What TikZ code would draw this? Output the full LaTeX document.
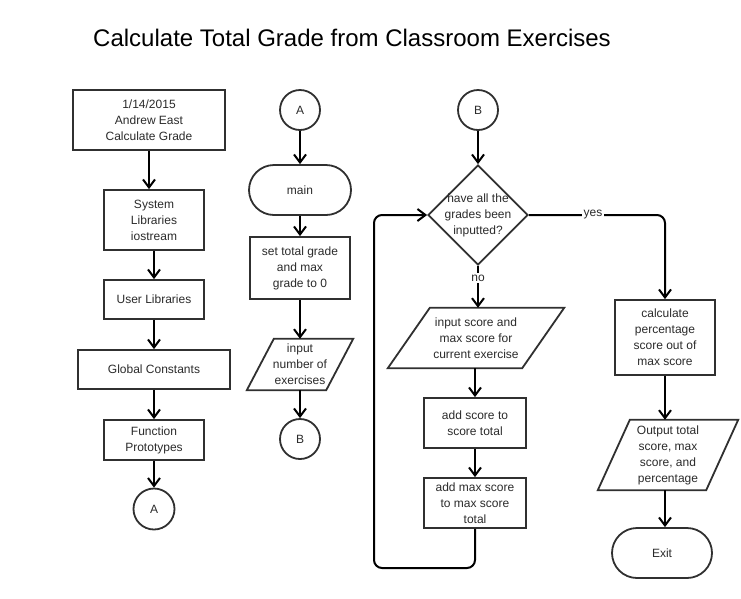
\documentclass[tikz,border=0pt]{standalone}
\usepackage{fontspec}
\setmainfont{Liberation Sans}
\usetikzlibrary{arrows.meta,shapes.geometric,shapes.misc}

\definecolor{ink}{HTML}{2B2B2B}
\definecolor{edge}{HTML}{303030}

% outline of a slanted input/output box around an (undrawn) node
\newcommand\slantdraw[2]{%
  \draw[edgeline] ([xshift=#2]#1.north west) -- (#1.north east)
    -- ([xshift=-#2]#1.south east) -- (#1.south west) -- cycle;}

\begin{document}
\begin{tikzpicture}[x=1pt,y=-1pt,
  every node/.style={font=\fontsize{12}{16}\selectfont, text=ink, align=center},
  edgeline/.style={draw=edge, line width=1.8pt, line join=miter},
  box/.style={rectangle, edgeline, inner sep=0pt},
  term/.style={rounded rectangle, edgeline, inner sep=0pt, minimum width=100pt, minimum height=50pt},
  conncircle/.style={circle, edgeline, inner sep=0pt, minimum size=41pt},
  iobox/.style={rectangle, draw=none, inner sep=0pt},
  decision/.style={diamond, edgeline, inner sep=0pt, minimum width=100pt, minimum height=100pt, aspect=1},
  conn/.style={draw=black, line width=2pt,
    -{Straight Barb[length=8pt,width=12pt,line width=2pt]}},
  tag/.style={fill=white, inner sep=2pt}
]
\fill[white] (0,0) rectangle (741,598);
\useasboundingbox (0,0) rectangle (741,598);

% heading
\node[text=black] (title) at (352,38)
  {\fontsize{24}{28}\selectfont Calculate Total Grade from Classroom Exercises};

% ---- header column ----
\node[box, minimum width=152pt, minimum height=60pt] (hdr) at (149,120)
  {1/14/2015\\Andrew East\\Calculate Grade};
\node[box, minimum width=100pt, minimum height=60pt] (syslib) at (154,220)
  {System\\Libraries\\iostream};
\node[box, minimum width=100pt, minimum height=39pt] (usrlib) at (154,299.5)
  {User Libraries};
\node[box, minimum width=152pt, minimum height=39pt] (glob) at (154,369.5)
  {Global Constants};
\node[box, minimum width=100pt, minimum height=40pt] (proto) at (154,440)
  {Function\\Prototypes};
\node[conncircle] (A1) at (154,509) {A};

\draw[conn] (hdr.south) -- (hdr.south |- syslib.north);
\draw[conn] (syslib.south) -- (usrlib.north);
\draw[conn] (usrlib.south) -- (glob.north);
\draw[conn] (glob.south) -- (proto.north);
\draw[conn] (proto.south) -- (A1.north);

% ---- main column ----
\node[conncircle, minimum size=40pt] (A2) at (300,110) {A};
\node[term, minimum width=102pt] (main) at (300,190) {main};
\node[box, minimum width=100pt, minimum height=62pt] (init) at (300,268)
  {set total grade\\and max\\grade to 0};
\node[iobox, minimum width=106pt, minimum height=51pt] (numin) at (300,364.5)
  {input\\number of\\exercises};
\slantdraw{numin}{27pt}
\node[conncircle, minimum size=40pt] (B1) at (300,439) {B};

\draw[conn] (A2.south) -- (main.north);
\draw[conn] (main.south) -- (init.north);
\draw[conn] (init.south) -- (numin.north);
\draw[conn] (numin.south) -- (B1.north);

% ---- loop column ----
\node[conncircle, minimum size=40pt] (B2) at (478,110) {B};
\node[decision] (ask) at (478,215) {};
\node (asktext) at (ask.center) {have all the\\grades been\\inputted?};
\node[iobox, minimum width=176pt, minimum height=60pt] (scorein) at (476,338)
  {input score and\\max score for\\current exercise};
\slantdraw{scorein}{42pt}
\node[box, minimum width=102pt, minimum height=50pt] (addsc) at (475,423)
  {add score to\\score total};
\node[box, minimum width=102pt, minimum height=50pt] (addmax) at (475,503)
  {add max score\\to max score\\total};

\coordinate (loopbot) at (374,568);
\coordinate (looptop) at (374,215);

\draw[conn] (B2.south) -- (ask.north);
\draw[conn] (ask.south) -- (ask.south |- scorein.north);
\node[tag] (no) at (478,278) {no};
\draw[conn] (addsc.north |- scorein.south) -- (addsc.north);
\draw[conn] (addsc.south) -- (addmax.north);
\draw[conn, rounded corners=8pt] (addmax.south) -- (addmax.south |- loopbot)
  -- (loopbot) -- (looptop) -- (ask.west);

% ---- result column ----
\node[box, minimum width=100pt, minimum height=75pt] (pct) at (665,337.5)
  {calculate\\percentage\\score out of\\max score};
\node[iobox, minimum width=140pt, minimum height=70pt] (report) at (668,455)
  {Output total\\score, max\\score, and\\percentage};
\slantdraw{report}{32pt}
\node[term] (exit) at (662,553) {Exit};

\coordinate (yesturn) at (665,215);
\draw[conn, rounded corners=8pt] (ask.east) -- (yesturn) -- (yesturn |- pct.north);
\node[tag] (yes) at (593,215) {yes};
\draw[conn] (yesturn |- pct.south) -- (yesturn |- report.north);
\draw[conn] (yesturn |- report.south) -- (yesturn |- exit.north);
\end{tikzpicture}
\end{document}
